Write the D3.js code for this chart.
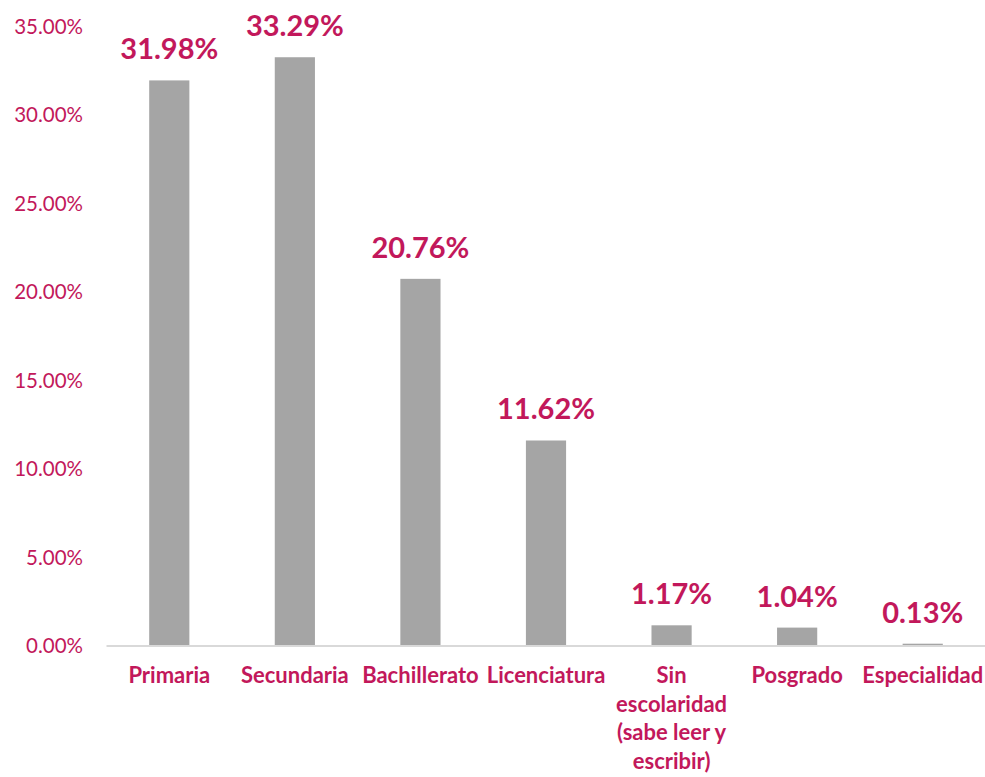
<!DOCTYPE html>
<html>
<head>
<meta charset="utf-8">
<script src="https://cdn.jsdelivr.net/npm/d3@7"></script>
<style>
  body { margin: 0; background: #fff; }
  svg text { font-family: Lato, "Open Sans", sans-serif; }
</style>
</head>
<body>
<div class="vis-barchart"></div>
<script>
// data
const categories = ["Primaria", "Secundaria", "Bachillerato", "Licenciatura",
    "Sin escolaridad (sabe leer y escribir)", "Posgrado", "Especialidad"];
const values = [31.98, 33.29, 20.76, 11.62, 1.17, 1.04, 0.13];
const yTicks = [0, 5, 10, 15, 20, 25, 30, 35];

const W = 985, H = 777;
const pink = "#c2185b";
const margin = {top: 27, right: 0, bottom: 131, left: 106.5};

const svg = d3.select('.vis-barchart').append('svg')
    .attr('width', W)
    .attr('height', H);

const x = d3.scaleBand()
    .domain(categories)
    .range([margin.left, W + 0.5])
    .paddingInner(0.68)
    .paddingOuter(0.34);

const y = d3.scaleLinear()
    .domain([0, 35])
    .range([H - margin.bottom, margin.top]);

// y axis labels only
const yAxis = svg.append("g")
    .attr("transform", "translate(83,0)")
    .call(d3.axisLeft(y).tickValues(yTicks).tickSize(0).tickPadding(0)
        .tickFormat(d => d.toFixed(2) + "%"));
yAxis.select(".domain").remove();
yAxis.selectAll("text")
    .attr("fill", pink)
    .style("font-size", "20.5px");

// bars
svg.selectAll("rect.bar")
  .data(values)
  .enter()
  .append("rect")
    .attr("class", "bar")
    .attr("x", (d, i) => x(categories[i]))
    .attr("y", d => y(d))
    .attr("width", x.bandwidth())
    .attr("height", d => y(0) - y(d))
    .style("fill", "#a5a5a5");

// baseline
svg.append("line")
    .attr("x1", margin.left).attr("x2", W)
    .attr("y1", y(0)).attr("y2", y(0))
    .style("stroke", "#d9d9d9")
    .style("stroke-width", 2);

// value labels
svg.selectAll("text.val")
  .data(values)
  .enter()
  .append("text")
    .attr("class", "val")
    .attr("x", (d, i) => x(categories[i]) + x.bandwidth() / 2)
    .attr("y", d => y(d) - 21)
    .attr("text-anchor", "middle")
    .attr("fill", pink)
    .style("font-size", "29px")
    .style("font-weight", "bold")
    .text(d => d.toFixed(2) + "%");

// category labels, wrapped to the band step
const xAxis = svg.append("g")
    .attr("transform", "translate(0," + y(0) + ")")
    .call(d3.axisBottom(x).tickSize(0).tickPadding(0));
xAxis.select(".domain").remove();
xAxis.selectAll("text")
    .attr("fill", pink)
    .attr("dy", null)
    .attr("y", 37)
    .style("font-size", "22px")
    .style("font-weight", "bold")
    .call(wrap, x.step() - 4);

function wrap(texts, width) {
    texts.each(function() {
        const text = d3.select(this);
        const words = text.text().split(/\s+/);
        const y0 = text.attr("y");
        text.text(null);
        let line = [];
        let lineNo = 0;
        let tspan = text.append("tspan").attr("x", 0).attr("y", y0);
        words.forEach(w => {
            line.push(w);
            tspan.text(line.join(" "));
            if (tspan.node().getComputedTextLength() > width && line.length > 1) {
                line.pop();
                tspan.text(line.join(" "));
                line = [w];
                lineNo++;
                tspan = text.append("tspan").attr("x", 0)
                    .attr("y", +y0 + lineNo * 28.5).text(w);
            }
        });
    });
}
</script>
</body>
</html>
